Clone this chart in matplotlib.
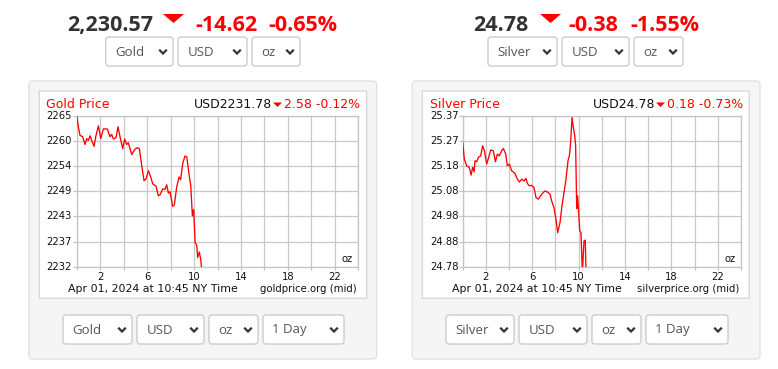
import numpy as np
import matplotlib
matplotlib.use("Agg")
import matplotlib.pyplot as plt
from matplotlib.patches import FancyBboxPatch, Polygon
from matplotlib.transforms import blended_transform_factory

# ---------------- data ----------------
gold_hours = [0.00, 0.14, 0.28, 0.51, 0.71, 0.85, 0.99, 1.14, 1.31, 1.48, 1.62, 1.85, 2.05, 2.27,
              2.61, 2.84, 2.98, 3.13, 3.35, 3.52, 3.69, 3.92, 4.09, 4.26, 4.40, 4.69, 4.97, 5.17,
              5.34, 5.54, 5.74, 5.91, 6.11, 6.31, 6.48, 6.76, 6.96, 7.10, 7.33, 7.53, 7.67, 7.81,
              7.95, 8.18, 8.32, 8.52, 8.72, 8.86, 9.03, 9.23, 9.38, 9.57, 9.72, 9.86, 9.97, 10.09,
              10.23, 10.31, 10.45, 10.57, 10.63]
gold_prices = [2265.0, 2262.6, 2260.7, 2260.4, 2258.7, 2260.0, 2259.6, 2260.6, 2259.4, 2258.3,
               2260.4, 2262.8, 2260.0, 2262.1, 2262.1, 2260.4, 2260.9, 2259.9, 2260.2, 2262.6,
               2260.4, 2257.8, 2259.9, 2258.7, 2259.1, 2256.5, 2257.7, 2258.0, 2257.8, 2254.1,
               2250.8, 2251.2, 2253.0, 2251.6, 2250.1, 2249.6, 2247.5, 2247.7, 2249.0, 2248.9,
               2249.9, 2248.1, 2248.4, 2245.2, 2245.5, 2249.4, 2251.6, 2251.0, 2254.5, 2256.2,
               2256.0, 2252.3, 2249.7, 2243.1, 2244.5, 2237.3, 2236.7, 2234.0, 2235.2, 2233.6,
               2232.0]

silver_hours = [0.00, 0.14, 0.34, 0.57, 0.72, 0.86, 0.98, 1.06, 1.21, 1.35, 1.55, 1.72, 1.87, 2.07,
                2.24, 2.41, 2.64, 2.82, 2.99, 3.16, 3.36, 3.51, 3.71, 3.85, 4.02, 4.22, 4.51, 4.71,
                4.89, 5.09, 5.29, 5.46, 5.57, 5.75, 5.95, 6.15, 6.32, 6.52, 6.72, 6.95, 7.10, 7.30,
                7.53, 7.67, 7.87, 8.02, 8.19, 8.39, 8.56, 8.74, 8.91, 9.08, 9.20, 9.31, 9.43, 9.54,
                9.66, 9.74, 9.83, 9.91, 10.00, 10.09, 10.20, 10.32, 10.46, 10.57, 10.63]
silver_prices = [25.266, 25.200, 25.174, 25.168, 25.138, 25.168, 25.151, 25.194, 25.190, 25.207,
                 25.213, 25.253, 25.233, 25.181, 25.207, 25.236, 25.233, 25.190, 25.220, 25.213,
                 25.233, 25.242, 25.220, 25.174, 25.181, 25.155, 25.145, 25.122, 25.111, 25.122,
                 25.115, 25.125, 25.106, 25.096, 25.098, 25.089, 25.050, 25.044, 25.057, 25.070,
                 25.076, 25.072, 25.063, 25.037, 25.011, 24.972, 24.913, 24.952, 25.018, 25.070,
                 25.122, 25.194, 25.213, 25.266, 25.363, 25.324, 25.292, 25.253, 25.007, 25.057,
                 24.991, 24.920, 24.913, 24.757, 24.880, 24.884, 24.770]

gold_ylim = (2232, 2265)
gold_ytick_labels = ["2232", "2237", "2243", "2249", "2254", "2260", "2265"]
silver_ylim = (24.78, 25.37)
silver_ytick_labels = ["24.78", "24.88", "24.98", "25.08", "25.18", "25.27", "25.37"]
x_ticks = list(range(0, 25, 2))
x_tick_labels = ["", "2", "", "6", "", "10", "", "14", "", "18", "", "22", ""]

gold_header = ["2,230.57", "-14.62", "-0.65%"]
silver_header = ["24.78", "-0.38", "-1.55%"]
gold_quote = ["USD2231.78", "2.58 -0.12%"]
silver_quote = ["USD24.78", "0.18 -0.73%"]
date_text = "Apr 01, 2024 at 10:45 NY Time"

# ---------------- figure ----------------
W, H = 778, 369
fig = plt.figure(figsize=(W / 100, H / 100), dpi=100)
fig.patch.set_facecolor("white")
bg = fig.add_axes([0, 0, 1, 1], zorder=0)
bg.set_xlim(0, W)
bg.set_ylim(H, 0)
bg.axis("off")

RED = "#ff0000"
DARK = "#333333"
HDR_FONT = "Open Sans"
CH_FONT = "DejaVu Sans"


def rect(x0, y0, x1, y1):
    return [x0 / W, 1 - y1 / H, (x1 - x0) / W, (y1 - y0) / H]


def rbox(x0, y0, x1, y1, fc, ec, r=3, lw=1.0, z=1):
    p = FancyBboxPatch((x0, y0), x1 - x0, y1 - y0,
                       boxstyle=f"round,pad=0,rounding_size={r}",
                       fc=fc, ec=ec, lw=lw, zorder=z)
    bg.add_patch(p)


def dropdown(x0, x1, y0, y1, label):
    rbox(x0, y0, x1, y1, "white", "#cccccc", r=3, lw=1.0, z=3)
    cy = (y0 + y1) / 2
    bg.text(x0 + 9.5, cy + 0.5, label, fontsize=9.5, family=HDR_FONT, color="#555555",
            ha="left", va="center", zorder=4)
    cx = x1 - 10
    bg.plot([cx - 3.8, cx, cx + 3.8], [cy - 1.8, cy + 2.0, cy - 1.8], color="#333333", lw=1.6,
            solid_capstyle="butt", solid_joinstyle="miter", zorder=4)


def header(xs, texts, tri_x, yb=31):
    bg.text(xs[0], yb, texts[0], fontsize=15.5, family=HDR_FONT, fontweight="bold",
            color=DARK, ha="left", va="baseline")
    bg.add_patch(Polygon([(tri_x, 14), (tri_x + 21, 14), (tri_x + 10.5, 23)],
                         closed=True, fc=RED, ec="none"))
    bg.text(xs[1], yb, texts[1], fontsize=15.5, family=HDR_FONT, fontweight="bold",
            color=RED, ha="left", va="baseline")
    bg.text(xs[2], yb, texts[2], fontsize=15.5, family=HDR_FONT, fontweight="bold",
            color=RED, ha="left", va="baseline")


def chart(panel, inner, plot, hours, prices, ylim, ylabels, title, quote, footer_r,
          title_x, ylab_x, tri_x):
    rbox(*panel, fc="#f5f5f5", ec="#e2e2e2", r=4, lw=1.0, z=1)
    rbox(*inner, fc="white", ec="#d9d9d9", r=0.5, lw=1.0, z=2)
    ax = fig.add_axes(rect(*plot), zorder=2)
    ax.set_facecolor("none")
    ax.plot(hours, prices, color=RED, lw=0.95, zorder=3)
    ax.set_xlim(0, 24)
    ax.set_ylim(*ylim)
    yt = np.linspace(ylim[0], ylim[1], 7)
    ax.set_yticks(yt)
    ax.set_yticklabels([""] * 7)
    ax.set_xticks(x_ticks)
    ax.set_xticklabels(x_tick_labels, fontsize=7.2, family=CH_FONT, color="#111111")
    ax.tick_params(axis="x", length=2.5, width=0.9, color="#c4c4c4", pad=1.5)
    ax.tick_params(axis="y", length=3.2, width=0.9, color="#c4c4c4", pad=1)
    ax.grid(True, color="#c8c8c8", lw=0.9)
    ax.set_axisbelow(True)
    for s in ax.spines.values():
        s.set_color("#c4c4c4")
        s.set_linewidth(0.9)
    tr = blended_transform_factory(bg.transData, ax.transData)
    for v, lab in zip(yt, ylabels):
        ax.text(ylab_x, v, lab, transform=tr, fontsize=7.2, family=CH_FONT, color="#111111",
                ha="left", va="center", clip_on=False)
    # chart header
    yb = 107.5
    bg.text(title_x, yb, title, fontsize=9, family=CH_FONT, color=RED, ha="left", va="baseline",
            zorder=5)
    bg.text(tri_x - 0.5, yb, quote[0], fontsize=9, family=CH_FONT, color="#111111",
            ha="right", va="baseline", zorder=5)
    bg.add_patch(Polygon([(tri_x, 102.5), (tri_x + 9, 102.5), (tri_x + 4.5, 107)],
                         closed=True, fc=RED, ec="none", zorder=5))
    bg.text(plot[2] + 2, yb, quote[1], fontsize=9, family=CH_FONT, color=RED,
            ha="right", va="baseline", zorder=5)
    # oz label
    bg.text(plot[2] - 11, 259, "oz", fontsize=7.2, family=CH_FONT, color="#111111",
            ha="center", va="center", zorder=5)
    # footer
    bg.text(ylab_x + 22, 288.5, date_text, fontsize=7.9, family=CH_FONT, color="#111111",
            ha="left", va="center", zorder=5)
    bg.text(plot[2] - 2, 288.5, footer_r, fontsize=7.3, family=CH_FONT, color="#111111",
            ha="right", va="center", zorder=5)
    return ax


# Gold
header([66.7, 195, 268], gold_header, 163)
for x0, x1, lab in [(105.7, 173, "Gold"), (178, 247, "USD"), (252, 300, "oz")]:
    dropdown(x0, x1, 37, 66, lab)
chart((29, 81, 376.7, 359), (39.3, 91, 366.7, 298.3), (76.7, 115.7, 358.3, 266.7),
      gold_hours, gold_prices, gold_ylim, gold_ytick_labels, "Gold Price", gold_quote,
      "goldprice.org (mid)", 46, 46, 273)
for x0, x1, lab in [(63, 132, "Gold"), (137, 204, "USD"), (209, 258, "oz"), (263, 344, "1 Day")]:
    dropdown(x0, x1, 315, 344, lab)

# Silver
header([472.7, 568, 630], silver_header, 540)
for x0, x1, lab in [(488, 557, "Silver"), (562, 629, "USD"), (634, 683, "oz")]:
    dropdown(x0, x1, 37, 66, lab)
chart((412.3, 81, 760, 359), (422.3, 91, 749.3, 298.3), (462.7, 115.7, 741, 266.7),
      silver_hours, silver_prices, silver_ylim, silver_ytick_labels, "Silver Price", silver_quote,
      "silverprice.org (mid)", 430, 430, 656)
for x0, x1, lab in [(446, 514, "Silver"), (519, 587, "USD"), (592, 641, "oz"), (646, 728, "1 Day")]:
    dropdown(x0, x1, 315, 344, lab)

fig.savefig("out.png", dpi=100, facecolor="white")
